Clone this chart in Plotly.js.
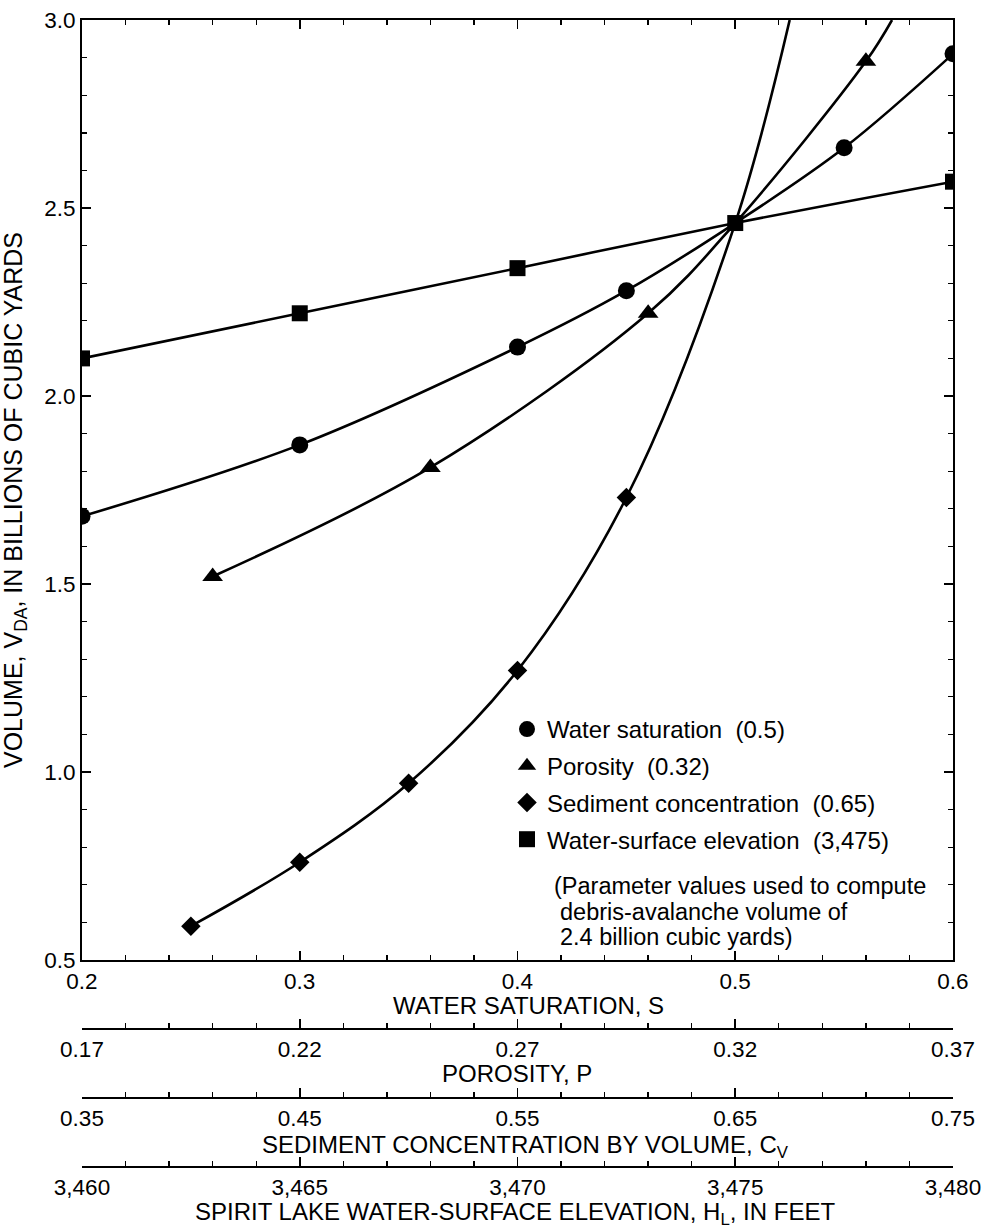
<!DOCTYPE html>
<html>
<head>
<meta charset="utf-8">
<script src="https://cdn.plot.ly/plotly-3.0.1.min.js"></script>
<style>
  html, body { margin: 0; padding: 0; background: #fff; }
  #chart { width: 989px; height: 1228px; }
</style>
</head>
<body>
<div id="chart"></div>
<script>
// ---------------- DATA ----------------
// Water saturation, S  (circles)
const satS = [0.2, 0.3, 0.4, 0.45, 0.5, 0.55, 0.6];
const satV = [1.68, 1.87, 2.13, 2.28, 2.46, 2.66, 2.91];
// Porosity, P  (triangles)
const porP = [0.20, 0.25, 0.30, 0.32, 0.35];
const porV = [1.52, 1.81, 2.22, 2.46, 2.89];
const porTopP = 0.356;          // where the porosity curve leaves the top of the plot
// Sediment concentration by volume, Cv  (diamonds)
const sedC = [0.40, 0.45, 0.50, 0.55, 0.60, 0.65];
const sedV = [0.59, 0.76, 0.97, 1.27, 1.73, 2.46];
const sedTopC = 0.675;          // where the sediment curve leaves the top of the plot
// Spirit Lake water-surface elevation, HL, in feet  (squares)
const elevH = [3460, 3465, 3470, 3475, 3480];
const elevV = [2.10, 2.22, 2.34, 2.46, 2.57];
// Parameter values used to compute the 2.4 billion cubic yard volume
const baseS = 0.5, baseP = 0.32, baseC = 0.65, baseH = 3475;
const vTop = 3.0;

// Legend / axis texts
const legendNames = [
  'Water saturation\u00a0 (0.5)',
  'Porosity\u00a0 (0.32)',
  'Sediment concentration\u00a0 (0.65)',
  'Water-surface elevation\u00a0 (3,475)'
];
const noteLines = [
  '(Parameter values used to compute',
  'debris-avalanche volume of',
  '2.4 billion cubic yards)'
];

// ---------------- helpers ----------------
const W = 989, H = 1228;
const ML = 82, MR = 36, MT = 20, MB = 0;
const PW = W - ML - MR, PH = H - MT - MB;
const px2x = p => (p - ML) / PW;
const py2y = p => (H - MB - p) / PH;

function withoutBase(xs, ys, base) {
  const ox = [], oy = [];
  xs.forEach((x, i) => { if (x !== base) { ox.push(x); oy.push(ys[i]); } });
  return [ox, oy];
}

const FONT = 'Liberation Sans, Arial, Helvetica, sans-serif';
const lineStyle = { color: '#000', width: 2.6, shape: 'spline', smoothing: 1 };

const [satMX, satMY] = withoutBase(satS, satV, baseS);
const [porMX, porMY] = withoutBase(porP, porV, baseP);
const [sedMX, sedMY] = withoutBase(sedC, sedV, baseC);

const traces = [
  // curves
  { x: satS, y: satV, xaxis: 'x', yaxis: 'y', mode: 'lines', line: lineStyle, showlegend: false, hoverinfo: 'skip' },
  { x: porP.concat([porTopP]), y: porV.concat([vTop]), xaxis: 'x2', yaxis: 'y', mode: 'lines', line: lineStyle, showlegend: false, hoverinfo: 'skip' },
  { x: sedC.concat([sedTopC]), y: sedV.concat([vTop]), xaxis: 'x3', yaxis: 'y', mode: 'lines', line: lineStyle, showlegend: false, hoverinfo: 'skip' },
  { x: elevH, y: elevV, xaxis: 'x4', yaxis: 'y', mode: 'lines', line: lineStyle, showlegend: false, hoverinfo: 'skip' },
  // markers
  { x: satMX, y: satMY, xaxis: 'x', yaxis: 'y', mode: 'markers', name: legendNames[0], legendgroup: 'a',
    marker: { symbol: 'circle', size: 17, color: '#000' } },
  { x: porMX, y: porMY, xaxis: 'x2', yaxis: 'y', mode: 'markers', name: legendNames[1], legendgroup: 'b',
    marker: { symbol: 'triangle-up', size: 18, color: '#000' } },
  { x: sedMX, y: sedMY, xaxis: 'x3', yaxis: 'y', mode: 'markers', name: legendNames[2], legendgroup: 'c',
    marker: { symbol: 'diamond', size: 15, color: '#000' } },
  { x: elevH, y: elevV, xaxis: 'x4', yaxis: 'y', mode: 'markers', name: legendNames[3], legendgroup: 'd',
    marker: { symbol: 'square', size: 16, color: '#000' } }
];

const tickFont = { family: FONT, size: 22.5, color: '#000' };
const titleFont = { family: FONT, size: 24, color: '#000' };

function extraAxis(range, dtick, fmt, minorDtick, posPx) {
  return {
    range: range, tick0: range[0], dtick: dtick, tickformat: fmt,
    ticks: 'inside', ticklen: 9, tickwidth: 1.6, tickcolor: '#000',
    minor: { tick0: range[0], dtick: minorDtick, ticks: 'inside', ticklen: 5, tickwidth: 1.4, tickcolor: '#000' },
    showline: true, linecolor: '#000', linewidth: 2,
    showgrid: false, zeroline: false,
    anchor: 'free', position: py2y(posPx), overlaying: 'x', side: 'bottom',
    tickfont: tickFont, fixedrange: true
  };
}

const annotations = [
  { text: 'WATER SATURATION, S', x: px2x(528), y: py2y(1005) },
  { text: 'POROSITY, P', x: px2x(517), y: py2y(1073) },
  { text: 'SEDIMENT CONCENTRATION BY VOLUME, C<sub>V</sub>', x: px2x(525), y: py2y(1146) },
  { text: 'SPIRIT LAKE WATER-SURFACE ELEVATION, H<sub>L</sub>, IN FEET', x: px2x(515), y: py2y(1213) }
].map(a => Object.assign({ xref: 'paper', yref: 'paper', xanchor: 'center', yanchor: 'middle',
  showarrow: false, font: titleFont }, a));

annotations.push({
  text: 'VOLUME, V<sub>DA</sub>, IN BILLIONS OF CUBIC YARDS', textangle: -90,
  xref: 'paper', yref: 'paper', x: px2x(15), y: py2y(500), xanchor: 'center', yanchor: 'middle',
  showarrow: false, font: { family: FONT, size: 25, color: '#000' }
});

const noteX = [552, 558, 558];
const noteY = [886, 912, 937];
noteLines.forEach((t, i) => annotations.push({
  text: t, xref: 'paper', yref: 'paper', x: px2x(noteX[i]), y: py2y(noteY[i]),
  xanchor: 'left', yanchor: 'middle', showarrow: false,
  font: { family: FONT, size: 23.5, color: '#000' }
}));

const layout = {
  width: W, height: H,
  margin: { l: ML, r: MR, t: MT, b: MB, pad: 0 },
  paper_bgcolor: '#fff', plot_bgcolor: '#fff',
  font: { family: FONT, color: '#000' },
  showlegend: true,
  legend: {
    x: px2x(507), y: py2y(707), xanchor: 'left', yanchor: 'top',
    font: { family: FONT, size: 24, color: '#000' },
    bgcolor: 'rgba(0,0,0,0)', borderwidth: 0,
    traceorder: 'grouped', tracegroupgap: 2.5
  },
  xaxis: {
    range: [0.2, 0.6], tick0: 0.2, dtick: 0.1, tickformat: '.1f',
    ticks: 'inside', ticklen: 9, tickwidth: 1.6, tickcolor: '#000',
    minor: { dtick: 0.02, ticks: 'inside', ticklen: 5, tickwidth: 1.4, tickcolor: '#000' },
    showline: true, linecolor: '#000', linewidth: 2, mirror: 'ticks',
    showgrid: false, zeroline: false, anchor: 'y', side: 'bottom',
    tickfont: tickFont, fixedrange: true
  },
  xaxis2: extraAxis([0.17, 0.37], 0.05, '.2f', 0.01, 1029),
  xaxis3: extraAxis([0.35, 0.75], 0.1, '.2f', 0.02, 1098),
  xaxis4: extraAxis([3460, 3480], 5, ',d', 1, 1167),
  yaxis: {
    domain: [py2y(960), 1],
    range: [0.5, 3.0], dtick: 0.5, tick0: 0.5, tickformat: '.1f',
    ticks: 'inside', ticklen: 9, tickwidth: 1.6, tickcolor: '#000',
    minor: { dtick: 0.1, ticks: 'inside', ticklen: 5, tickwidth: 1.4, tickcolor: '#000' },
    showline: true, linecolor: '#000', linewidth: 2, mirror: 'ticks',
    showgrid: false, zeroline: false, anchor: 'x',
    tickfont: tickFont, fixedrange: true
  },
  annotations: annotations
};

Plotly.newPlot('chart', traces, layout, { staticPlot: true, displayModeBar: false });
</script>
</body>
</html>
